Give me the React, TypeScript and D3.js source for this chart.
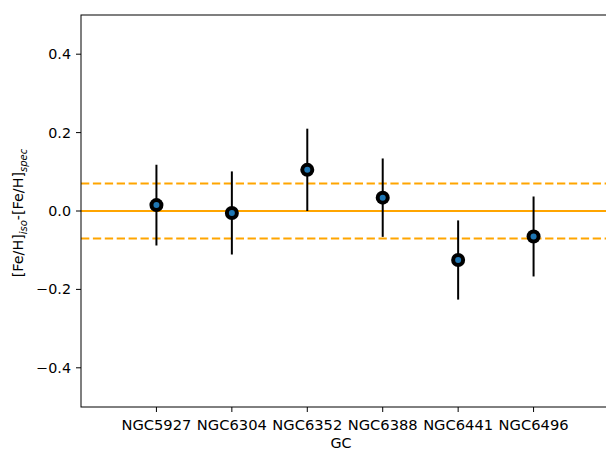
import React from "react";
import * as d3 from "d3";

const categories = ["NGC5927", "NGC6304", "NGC6352", "NGC6388", "NGC6441", "NGC6496"];
const values = [0.015, -0.005, 0.105, 0.034, -0.125, -0.065];
const errors = [0.103, 0.106, 0.105, 0.1, 0.101, 0.102];
const yTicks = [-0.4, -0.2, 0.0, 0.2, 0.4];
const refLine = 0;
const bandLines = [0.07, -0.07];

const W = 606;
const H = 451;
const left = 81;
const right = 609;
const top = 15;
const bottom = 407;
const font = "DejaVu Sans, sans-serif";
const fs = 14.3;

export default function App() {
  const x = d3.scaleLinear().domain([-1, 6]).range([left, right]);
  const y = d3.scaleLinear().domain([-0.5, 0.5]).range([bottom, top]);
  const fmt = (v: number) => (v < 0 ? "\u2212" : "") + Math.abs(v).toFixed(1);
  return (
    <svg width={W} height={H} style={{ position: "absolute", left: 0, top: 0 }}>
      <rect x={0} y={0} width={W} height={H} fill="white" />
      <line x1={left} x2={right} y1={y(refLine)} y2={y(refLine)} stroke="orange" strokeWidth={2} />
      {bandLines.map((v, i) => (
        <line key={i} x1={left} x2={right} y1={y(v)} y2={y(v)} stroke="orange" strokeWidth={2} strokeDasharray="8.3,3.6" />
      ))}
      {categories.map((c, i) => (
        <g key={c}>
          <line x1={x(i)} x2={x(i)} y1={y(values[i] - errors[i])} y2={y(values[i] + errors[i])} stroke="black" strokeWidth={2} />
          <circle cx={x(i)} cy={y(values[i])} r={7} fill="black" />
          <circle cx={x(i)} cy={y(values[i])} r={3} fill="#1f77b4" />
        </g>
      ))}
      <rect x={left} y={top} width={right - left} height={bottom - top} fill="none" stroke="black" strokeWidth={1} />
      {yTicks.map((t) => (
        <g key={t}>
          <line x1={left - 5} x2={left} y1={y(t)} y2={y(t)} stroke="black" strokeWidth={1} />
          <text x={left - 10} y={y(t)} dy="0.35em" textAnchor="end" fontFamily={font} fontSize={fs}>
            {fmt(t)}
          </text>
        </g>
      ))}
      {categories.map((c, i) => (
        <g key={c}>
          <line x1={x(i)} x2={x(i)} y1={bottom} y2={bottom + 5} stroke="black" strokeWidth={1} />
          <text x={x(i)} y={bottom + 23} textAnchor="middle" fontFamily={font} fontSize={14.7}>
            {c}
          </text>
        </g>
      ))}
      <text x={(left + right) / 2 - 4} y={448} textAnchor="middle" fontFamily={font} fontSize={fs}>
        GC
      </text>
      <text transform={`translate(23, ${(top + bottom) / 2 + 2}) rotate(-90)`} textAnchor="middle" fontFamily={font} fontSize={fs}>
        [Fe/H]
        <tspan fontSize={10} fontStyle="italic" dy={4}>iso</tspan>
        <tspan dy={-4}>-[Fe/H]</tspan>
        <tspan fontSize={10} fontStyle="italic" dy={4}>spec</tspan>
      </text>
    </svg>
  );
}
